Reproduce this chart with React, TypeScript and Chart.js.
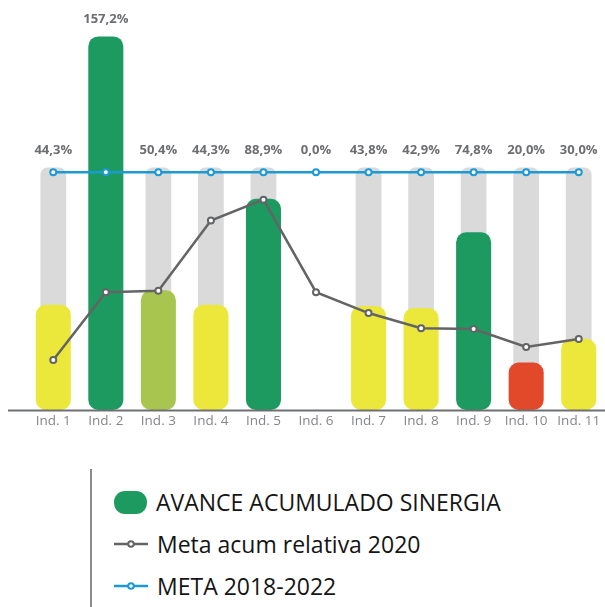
import React, { useEffect, useRef } from "react";
import { Chart, registerables } from "chart.js";

Chart.register(...registerables);

const categories = ["Ind. 1", "Ind. 2", "Ind. 3", "Ind. 4", "Ind. 5", "Ind. 6", "Ind. 7", "Ind. 8", "Ind. 9", "Ind. 10", "Ind. 11"];
const avance = [44.3, 157.2, 50.4, 44.3, 88.9, 0.0, 43.8, 42.9, 74.8, 20.0, 30.0];
const avanceColors = ["#ebe83b", "#1d9a5f", "#a8c54f", "#ebe83b", "#1d9a5f", "#ebe83b", "#ebe83b", "#ebe83b", "#1d9a5f", "#e2492b", "#ebe83b"];
const metaRelativa2020 = [21.0, 49.6, 50.2, 79.7, 88.5, 49.6, 40.8, 34.4, 34.1, 26.5, 29.9];
const meta20182022 = [100, 100, 100, 100, 100, 100, 100, 100, 100, 100, 100];
const trackValue = 102;
const track = [trackValue, trackValue, trackValue, trackValue, trackValue, null, trackValue, trackValue, trackValue, trackValue, trackValue];

const legendItems = [
  { label: "AVANCE ACUMULADO SINERGIA", kind: "bar", color: "#1d9a5f" },
  { label: "Meta acum relativa 2020", kind: "line", color: "#636466" },
  { label: "META 2018-2022", kind: "line", color: "#1b9ad6" },
];

const FONT = "'Open Sans', 'Noto Sans', sans-serif";

export default function App() {
  const canvasRef = useRef<HTMLCanvasElement | null>(null);

  useEffect(() => {
    if (!canvasRef.current) return;

    const baseLine = {
      id: "baseLine",
      afterDatasetsDraw(chart: any) {
        const { ctx } = chart;
        const y = chart.scales.y.getPixelForValue(0) + 0.5;
        ctx.save();
        ctx.strokeStyle = "#6f7072";
        ctx.lineWidth = 2;
        ctx.beginPath();
        ctx.moveTo(0, y);
        ctx.lineTo(chart.width, y);
        ctx.stroke();
        ctx.restore();
      },
    };

    const valueLabels = {
      id: "valueLabels",
      afterDatasetsDraw(chart: any) {
        const { ctx } = chart;
        const ys = chart.scales.y;
        const xs = chart.scales.x;
        ctx.save();
        ctx.font = `bold 13px ${FONT}`;
        ctx.fillStyle = "#6d6e71";
        ctx.textAlign = "center";
        ctx.textBaseline = "middle";
        avance.forEach((v, i) => {
          const top = Math.min(ys.getPixelForValue(v), ys.getPixelForValue(trackValue));
          const x = xs.getPixelForValue(i);
          ctx.fillText(v.toFixed(1).replace(".", ",") + "%", x, top - 17);
        });
        ctx.restore();
      },
    };

    const chart = new Chart(canvasRef.current, {
      type: "bar",
      data: {
        labels: categories,
        datasets: [
          {
            type: "line",
            label: "META 2018-2022",
            data: meta20182022,
            borderColor: "#1b9ad6",
            backgroundColor: "#ffffff",
            borderWidth: 2.5,
            pointRadius: 3,
            pointBorderWidth: 2,
            pointBackgroundColor: "#ffffff",
            pointBorderColor: "#1b9ad6",
            order: 1,
          },
          {
            type: "line",
            label: "Meta acum relativa 2020",
            data: metaRelativa2020,
            borderColor: "#636466",
            backgroundColor: "#ffffff",
            borderWidth: 2.5,
            pointRadius: 3,
            pointBorderWidth: 2,
            pointBackgroundColor: "#ffffff",
            pointBorderColor: "#636466",
            order: 2,
          },
          {
            type: "bar",
            label: "AVANCE ACUMULADO SINERGIA",
            data: avance,
            backgroundColor: avanceColors,
            borderRadius: 10,
            borderSkipped: false,
            barPercentage: 0.667,
            categoryPercentage: 1,
            grouped: false,
            order: 3,
          },
          {
            type: "bar",
            label: "track",
            data: track as any,
            backgroundColor: "#d9dad9",
            borderRadius: 7,
            borderSkipped: false,
            barPercentage: 0.49,
            categoryPercentage: 1,
            grouped: false,
            order: 4,
          },
        ],
      },
      options: {
        animation: false,
        responsive: true,
        maintainAspectRatio: false,
        layout: { padding: { left: 19, right: 1, top: 5, bottom: 0 } },
        plugins: {
          legend: { display: false },
          tooltip: { enabled: false },
        },
        scales: {
          x: {
            grid: { display: false, drawTicks: false },
            border: { display: false },
            ticks: {
              color: "#85868a",
              font: { family: FONT, size: 13.5 },
              padding: 3,
              maxRotation: 0,
              autoSkip: false,
            },
            afterFit(scale: any) {
              scale.height = 30;
            },
          },
          y: {
            display: false,
            min: 0,
            max: 170,
          },
        },
      },
      plugins: [baseLine, valueLabels],
    });

    return () => chart.destroy();
  }, []);

  return (
    <div style={{ position: "fixed", left: 0, top: 0, width: 605, height: 607, overflow: "hidden", background: "#ffffff" }}>
      <div style={{ position: "absolute", left: 8, top: 0, width: 603, height: 440 }}>
        <canvas ref={canvasRef} />
      </div>
      <div style={{ position: "absolute", left: 90, top: 469, width: 2, height: 140, background: "#8a8b8d" }} />
      <div style={{ position: "absolute", left: 114, top: 481, display: "flex", flexDirection: "column" }}>
        {legendItems.map((item) => (
          <div key={item.label} style={{ height: 42, display: "flex", alignItems: "center" }}>
            {item.kind === "bar" ? (
              <div style={{ width: 33, height: 23, borderRadius: 11, background: item.color }} />
            ) : (
              <svg width={34} height={10} style={{ display: "block" }}>
                <line x1={0} y1={5} x2={34} y2={5} stroke={item.color} strokeWidth={2.5} />
                <circle cx={17} cy={5} r={2.8} fill="#ffffff" stroke={item.color} strokeWidth={2} />
              </svg>
            )}
            <span style={{ marginLeft: 9, fontFamily: FONT, fontSize: 23, color: "#151515", whiteSpace: "nowrap" }}>
              {item.label}
            </span>
          </div>
        ))}
      </div>
    </div>
  );
}
